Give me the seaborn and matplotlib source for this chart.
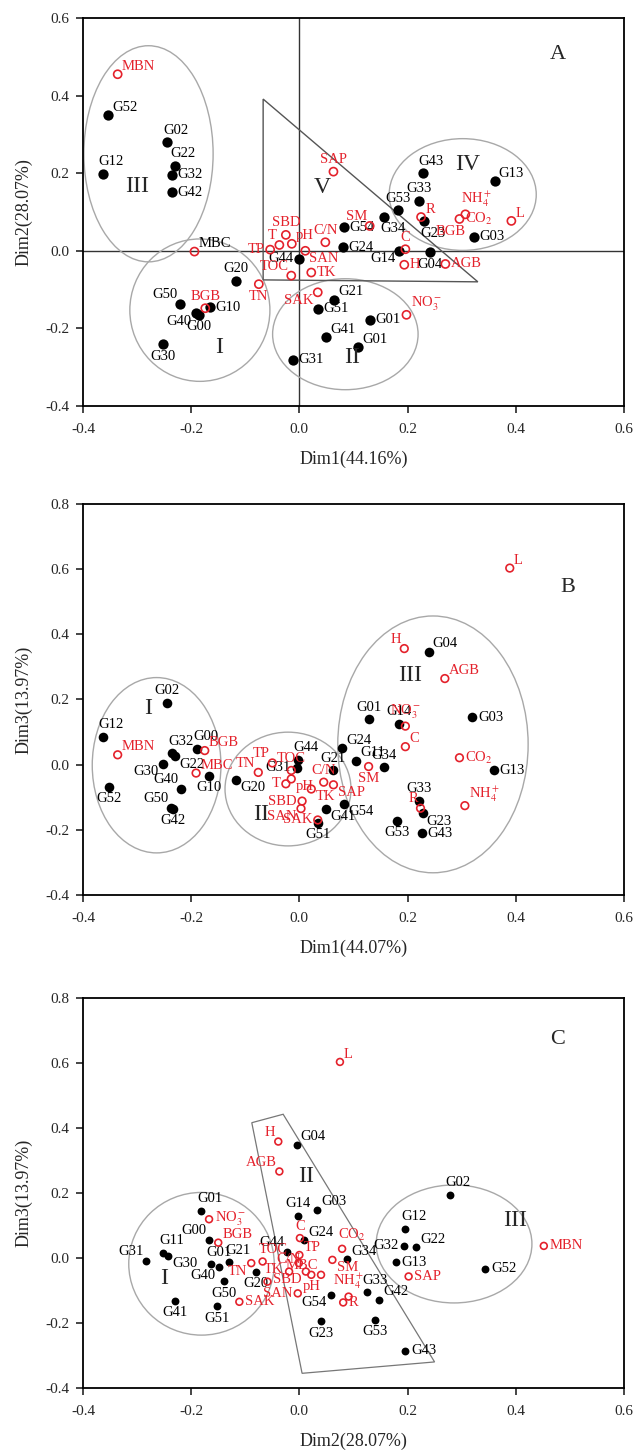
import matplotlib
matplotlib.use('Agg')
import matplotlib.pyplot as plt
import pandas as pd
import seaborn as sns
from matplotlib.patches import Ellipse, Polygon

# ---------------- Panel A : Dim1 vs Dim2 ----------------
samples_a = ['G52', 'G02', 'G22', 'G32', 'G42', 'G12', 'G43', 'G13', 'G33', 'G53',
             'G34', 'G23', 'G03', 'G14', 'G04', 'G54', 'G24', 'G44', 'G21', 'G51',
             'G01', 'G41', 'G01', 'G31', 'G20', 'G50', 'G10', 'G40', 'G00', 'G30']
sx_a = [-0.353, -0.244, -0.230, -0.235, -0.236, -0.364, 0.228, 0.361, 0.222, 0.182,
        0.157, 0.231, 0.323, 0.185, 0.241, 0.083, 0.081, -0.001, 0.064, 0.035,
        0.131, 0.049, 0.108, -0.012, -0.117, -0.220, -0.165, -0.191, -0.186, -0.252]
sy_a = [0.349, 0.280, 0.219, 0.196, 0.151, 0.198, 0.200, 0.180, 0.129, 0.104,
        0.088, 0.076, 0.036, 0.000, -0.003, 0.061, 0.009, -0.020, -0.126, -0.149,
        -0.178, -0.222, -0.248, -0.281, -0.077, -0.137, -0.145, -0.161, -0.165, -0.241]
vars_a = ['MBN', 'SAP', 'R', 'NH4', 'CO2', 'L', 'C', 'H', 'AGB', 'SM', 'C/N', 'SAN',
          'TK', 'TOC', 'TN', 'SAK', 'NO3', 'SBD', 'pH', 'T', 'TP', 'MBC', 'BGB']
vx_a = [-0.336, 0.063, 0.225, 0.307, 0.296, 0.392, 0.196, 0.194, 0.270, 0.130, 0.048, 0.011,
        0.022, -0.015, -0.075, 0.034, 0.198, -0.025, -0.014, -0.037, -0.054, -0.194, -0.174]
vy_a = [0.455, 0.204, 0.087, 0.094, 0.082, 0.077, 0.004, -0.036, -0.034, 0.064, 0.022, 0.000,
        -0.056, -0.064, -0.086, -0.107, -0.165, 0.041, 0.018, 0.015, 0.003, -0.002, -0.148]

# ---------------- Panel B : Dim1 vs Dim3 ----------------
samples_b = ['G02', 'G12', 'G52', 'G32', 'G22', 'G30', 'G00', 'G40', 'G10', 'G50',
             'G42', 'G20', 'G31', 'G44', 'G21', 'G24', 'G11', 'G34', 'G01', 'G14',
             'G04', 'G03', 'G13', 'G33', 'G23', 'G53', 'G43', 'G54', 'G41', 'G51']
sx_b = [-0.244, -0.364, -0.352, -0.235, -0.230, -0.252, -0.189, -0.219, -0.167, -0.237,
        -0.234, -0.117, -0.005, -0.003, 0.062, 0.079, 0.105, 0.156, 0.128, 0.185,
        0.239, 0.320, 0.359, 0.222, 0.228, 0.180, 0.227, 0.082, 0.049, 0.034]
sy_b = [0.190, 0.086, -0.068, 0.035, 0.026, 0.002, 0.048, -0.075, -0.034, -0.132,
        -0.136, -0.046, -0.010, 0.015, -0.018, 0.051, 0.012, -0.008, 0.139, 0.125,
        0.346, 0.146, -0.018, -0.111, -0.150, -0.172, -0.210, -0.121, -0.136, -0.178]
vars_b = ['L', 'H', 'AGB', 'NO3', 'C', 'CO2', 'SM', 'R', 'NH4', 'SAP', 'C/N', 'TK',
          'SBD', 'SAN', 'SAK', 'pH', 'T', 'TOC', 'TP', 'TN', 'MBC', 'BGB', 'MBN']
vx_b = [0.389, 0.194, 0.269, 0.196, 0.196, 0.296, 0.128, 0.224, 0.306, 0.063, 0.045, 0.022,
        0.005, 0.003, 0.034, -0.015, -0.025, -0.015, -0.050, -0.076, -0.191, -0.175, -0.336]
vy_b = [0.603, 0.356, 0.264, 0.118, 0.055, 0.021, -0.006, -0.134, -0.126, -0.062, -0.054, -0.075,
        -0.112, -0.135, -0.170, -0.044, -0.059, -0.018, 0.005, -0.024, -0.026, 0.043, 0.030]

# ---------------- Panel C : Dim2 vs Dim3 ----------------
samples_c = ['G04', 'G03', 'G14', 'G24', 'G44', 'G34', 'G32', 'G12', 'G22', 'G13',
             'G02', 'G52', 'G33', 'G42', 'G54', 'G01', 'G00', 'G31', 'G11', 'G30',
             'G01', 'G40', 'G21', 'G20', 'G50', 'G41', 'G51', 'G23', 'G53', 'G43']
sx_c = [-0.005, 0.033, -0.003, 0.009, -0.022, 0.088, 0.194, 0.196, 0.216, 0.179,
        0.278, 0.344, 0.125, 0.148, 0.059, -0.181, -0.167, -0.283, -0.252, -0.243,
        -0.164, -0.148, -0.130, -0.081, -0.139, -0.230, -0.152, 0.040, 0.140, 0.196]
sy_c = [0.348, 0.148, 0.129, 0.055, 0.018, -0.003, 0.038, 0.089, 0.033, -0.014,
        0.194, -0.034, -0.106, -0.129, -0.114, 0.145, 0.055, -0.009, 0.016, 0.006,
        -0.019, -0.029, -0.014, -0.042, -0.071, -0.132, -0.148, -0.195, -0.190, -0.285]
vars_c = ['L', 'H', 'AGB', 'C', 'TP', 'CO2', 'MBC', 'SM', 'NH4', 'R', 'pH', 'SBD',
          'SAN', 'C/N', 'T', 'TK', 'TOC', 'TN', 'BGB', 'NO3', 'SAK', 'SAP', 'MBN']
vx_c = [0.075, -0.039, -0.037, 0.001, 0.000, 0.079, 0.040, 0.061, 0.091, 0.081, 0.022, 0.012,
        -0.003, -0.019, -0.001, -0.059, -0.068, -0.089, -0.150, -0.167, -0.111, 0.202, 0.452]
vy_c = [0.603, 0.358, 0.266, 0.061, 0.009, 0.028, -0.052, -0.006, -0.119, -0.137, -0.052, -0.042,
        -0.109, -0.042, -0.016, -0.073, -0.011, -0.016, 0.047, 0.119, -0.135, -0.057, 0.037]

# label placement (layout only)
pos_sa = ['ur', 'au', 'au', 'r', 'r', 'au', 'au', 'ur', 'a', 'a', 'bl', 'bl', 'r', 'lb', 'b',
          'r', 'r', 'l', 'ur', 'r', 'r', 'ur', 'ur', 'r', 'a', 'al', 'r', 'lb', 'b', 'b']
pos_va = ['ur', 'a', 'ur', 'au', 'r', 'ur', 'a', 'r', 'r', 'al', 'a', 'rb',
          'r', 'al', 'b', 'lb', 'ur', 'a', 'ur', 'al', 'l', 'ur', 'a']
pos_sb = ['a', 'au', 'b', 'au', 'rb', 'lb', 'au', 'al', 'b', 'al', 'b', 'rb', 'l', 'au', 'a',
          'ur', 'ur', 'a', 'a', 'a', 'ur', 'r', 'r', 'a', 'rb', 'b', 'r', 'rb', 'rb', 'b']
pos_vb = ['ur', 'al', 'ur', 'a', 'ur', 'r', 'b', 'al', 'ur', 'rb', 'a', 'rb',
          'l', 'lb', 'l', 'rb', 'l', 'a', 'al', 'al', 'ur', 'ur', 'ur']
pos_sc = ['ur', 'ur', 'a', 'ur', 'al', 'ur', 'l', 'au', 'ur', 'r', 'au', 'r', 'au', 'ur', 'lb',
          'au', 'al', 'al', 'au', 'rb', 'au', 'lb', 'au', 'b', 'b', 'b', 'b', 'b', 'b', 'r']
pos_vc = ['ur', 'al', 'al', 'a', 'ur', 'au', 'al', 'rb', 'a', 'r', 'b', 'lb',
          'l', 'a', None, 'au', 'au', 'lb', 'ur', 'r', 'r', 'r', 'r']

OFFS = {'r': (4, 0, 'left', 'center'), 'ur': (3, 1, 'left', 'bottom'),
        'rb': (3, -1, 'left', 'top'), 'l': (-4, 0, 'right', 'center'),
        'al': (-2, 2, 'right', 'bottom'), 'lb': (-3, -1, 'right', 'top'),
        'a': (0, 4, 'center', 'bottom'), 'au': (-3, 4, 'left', 'bottom'),
        'b': (0, -4, 'center', 'top'), 'bl': (-3, -4, 'left', 'top')}
PRETTY = {'NH4': r'NH$_4^+$', 'NO3': r'NO$_3^-$', 'CO2': r'CO$_2$'}
RED = '#e4212b'
GREY = '#a8a8a8'

sns.set_style('ticks')
plt.rcParams['font.family'] = ['Liberation Serif', 'DejaVu Serif']
plt.rcParams['mathtext.fontset'] = 'stix'


def put_labels(ax, names, xs, ys, pos, color, size=10.5, black=()):
    for n, x, y, p in zip(names, xs, ys, pos):
        if p is None:
            continue
        dx, dy, ha, va = OFFS[p]
        c = 'black' if n in black else color
        ax.annotate(PRETTY.get(n, n), (x, y), xytext=(dx, dy), textcoords='offset points',
                    ha=ha, va=va, color=c, fontsize=size)


def draw_panel(ax, sx, sy, snames, spos, vx, vy, vnames, vpos, ymax, xlabel, ylabel,
               dot=50, ring=30, black=()):
    sns.scatterplot(x=sx, y=sy, color='black', s=dot, edgecolor='black', linewidth=0,
                    ax=ax, zorder=3)
    sns.scatterplot(x=vx, y=vy, facecolor='none', edgecolor=RED, s=ring, linewidth=1.2,
                    ax=ax, zorder=4)
    put_labels(ax, snames, sx, sy, spos, 'black')
    put_labels(ax, vnames, vx, vy, vpos, RED, black=black)
    ax.set_xlim(-0.4, 0.6)
    ax.set_ylim(-0.4, ymax)
    ax.set_xticks([-0.4, -0.2, 0.0, 0.2, 0.4, 0.6])
    ax.set_yticks([v / 10 for v in range(-4, int(round(ymax * 10)) + 1, 2)])
    ax.xaxis.set_major_formatter(matplotlib.ticker.FormatStrFormatter('%.1f'))
    ax.yaxis.set_major_formatter(matplotlib.ticker.FormatStrFormatter('%.1f'))
    ax.tick_params(direction='out', length=5, width=1.2, labelsize=11)
    ax.tick_params(axis='x', pad=7)
    ax.tick_params(axis='y', pad=5)
    for sp in ax.spines.values():
        sp.set_linewidth(1.3)
        sp.set_color('black')
    ax.set_xlabel(xlabel, fontsize=13, labelpad=11)
    ax.set_ylabel(ylabel, fontsize=13, labelpad=9)


fig = plt.figure(figsize=(6.34, 14.5), dpi=100)
axA = fig.add_axes([0.131, 0.720, 0.853, 0.2676])
axB = fig.add_axes([0.131, 0.3828, 0.853, 0.2697])
axC = fig.add_axes([0.131, 0.0428, 0.853, 0.2690])

# Panel A
axA.axhline(0, color='#333333', lw=1, zorder=1)
axA.axvline(0, color='#333333', lw=1, zorder=1)
for c, w, h in [((-0.279, 0.25), 0.239, 0.557), ((-0.184, -0.153), 0.259, 0.367),
                ((0.085, -0.215), 0.269, 0.286), ((0.302, 0.145), 0.272, 0.288)]:
    axA.add_patch(Ellipse(c, w, h, fill=False, ec=GREY, lw=1))
axA.add_patch(Polygon([(-0.067, 0.391), (-0.067, -0.075), (0.330, -0.080)], closed=True,
                      fill=False, ec='#555555', lw=1))
draw_panel(axA, sx_a, sy_a, samples_a, pos_sa, vx_a, vy_a, vars_a, pos_va, 0.6,
           'Dim1(44.16%)', 'Dim2(28.07%)', dot=55, ring=34, black=('MBC',))
axA.text(0.28, 0.050, 'BGB', color=RED, fontsize=10.5, ha='center', va='center')
for t, x, y in [('III', -0.30, 0.166), ('V', 0.043, 0.162), ('IV', 0.311, 0.222),
                ('I', -0.148, -0.25), ('II', 0.098, -0.276)]:
    axA.text(x, y, t, fontsize=17, ha='center', va='center')
axA.text(0.478, 0.505, 'A', fontsize=16, ha='center', va='center')

# Panel B
for c, w, h in [((-0.264, -0.002), 0.238, 0.538), ((-0.021, -0.075), 0.233, 0.349),
                ((0.247, 0.062), 0.352, 0.788)]:
    axB.add_patch(Ellipse(c, w, h, fill=False, ec=GREY, lw=1))
draw_panel(axB, sx_b, sy_b, samples_b, pos_sb, vx_b, vy_b, vars_b, pos_vb, 0.8,
           'Dim1(44.07%)', 'Dim3(13.97%)', dot=48, ring=30)
for t, x, y in [('I', -0.279, 0.171), ('II', -0.071, -0.152), ('III', 0.204, 0.274)]:
    axB.text(x, y, t, fontsize=17, ha='center', va='center')
axB.text(0.496, 0.542, 'B', fontsize=16, ha='center', va='center')

# Panel C
for c, w, h in [((-0.181, -0.018), 0.269, 0.439), ((0.286, 0.043), 0.288, 0.363)]:
    axC.add_patch(Ellipse(c, w, h, fill=False, ec=GREY, lw=1))
axC.add_patch(Polygon([(-0.088, 0.416), (-0.030, 0.442), (0.250, -0.320), (0.005, -0.355)],
                      closed=True, fill=False, ec='#777777', lw=0.9))
draw_panel(axC, sx_c, sy_c, samples_c, pos_sc, vx_c, vy_c, vars_c, pos_vc, 0.8,
           'Dim2(28.07%)', 'Dim3(13.97%)', dot=32, ring=24)
for t, x, y in [('I', -0.25, -0.062), ('II', 0.012, 0.250), ('III', 0.398, 0.114)]:
    axC.text(x, y, t, fontsize=17, ha='center', va='center')
axC.text(0.478, 0.671, 'C', fontsize=16, ha='center', va='center')

fig.savefig('out.png', dpi=100)
